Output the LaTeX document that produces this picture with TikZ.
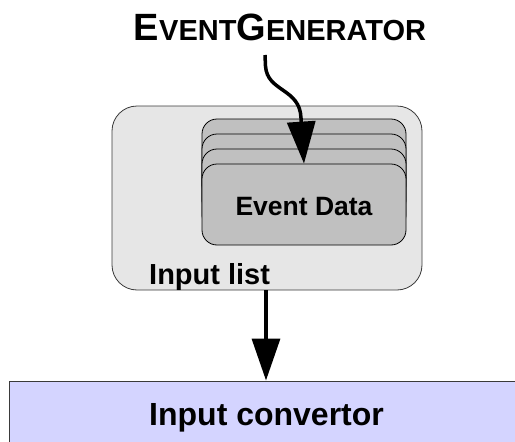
\documentclass[tikz,border=0pt]{standalone}
\usepackage{fontspec}
\setmainfont{Liberation Sans}
\usetikzlibrary{arrows.meta}
\definecolor{outerfill}{HTML}{E6E6E6}
\definecolor{cardfill}{HTML}{C0C0C0}
\definecolor{convfill}{HTML}{D4D4FF}
\definecolor{edge}{HTML}{3A3A3A}
\newcommand{\bigf}[1]{{\fontsize{38}{38}\selectfont #1}}
\newcommand{\smf}[1]{{\fontsize{29}{29}\selectfont #1}}
\tikzset{
  listbox/.style={draw=edge, line width=0.8pt, fill=outerfill, rounded corners=25pt, minimum width=310pt, minimum height=184pt, inner sep=0pt},
  card/.style={draw=black, line width=0.8pt, fill=cardfill, rounded corners=15pt, minimum width=204pt, minimum height=81pt, inner sep=0pt},
  convbox/.style={draw=edge, line width=1pt, fill=convfill, minimum width=521pt, minimum height=80pt, inner sep=0pt},
  flow/.style={line width=3.5pt, -{Triangle[length=42pt,width=28pt]}},
  lbl/.style={font=\bfseries, inner sep=0pt}
}
\begin{document}
\begin{tikzpicture}[x=1pt,y=-1pt]
\useasboundingbox (0,0) rectangle (515,442);
% title
\node[lbl, anchor=base] (gen) at (280,40) {\bfseries\bigf{E}\smf{VENT}\bigf{G}\smf{ENERATOR}};
% input list
\node[listbox] (list) at (267,198) {};
\node[card] (c1) at (304,159.5) {};
\node[card] (c2) at (304,174.5) {};
\node[card] (c3) at (304,189.5) {};
\node[card] (c4) at (304,204.5) {};
\node[lbl, font=\fontsize{26.5}{26.5}\selectfont\bfseries] (ed) at (304,207) {Event Data};
\node[lbl, font=\fontsize{29}{29}\selectfont\bfseries, anchor=base west] (il) at (149,284) {Input list};
% convertor
\node[convbox] (conv) at (269.5,421) {};
\node[lbl, font=\fontsize{32}{32}\selectfont\bfseries, anchor=base west] (ic) at (149,425) {Input convertor};
% connectors
\coordinate (w0) at (265,55);
\draw[flow] (w0) -- (265.5,66) .. controls (267,92) and (300,88) .. (301,118) -- (c4.north);
\draw[flow] (list.south -| 266,0) -- (conv.north -| 266,0);
\end{tikzpicture}
\end{document}
